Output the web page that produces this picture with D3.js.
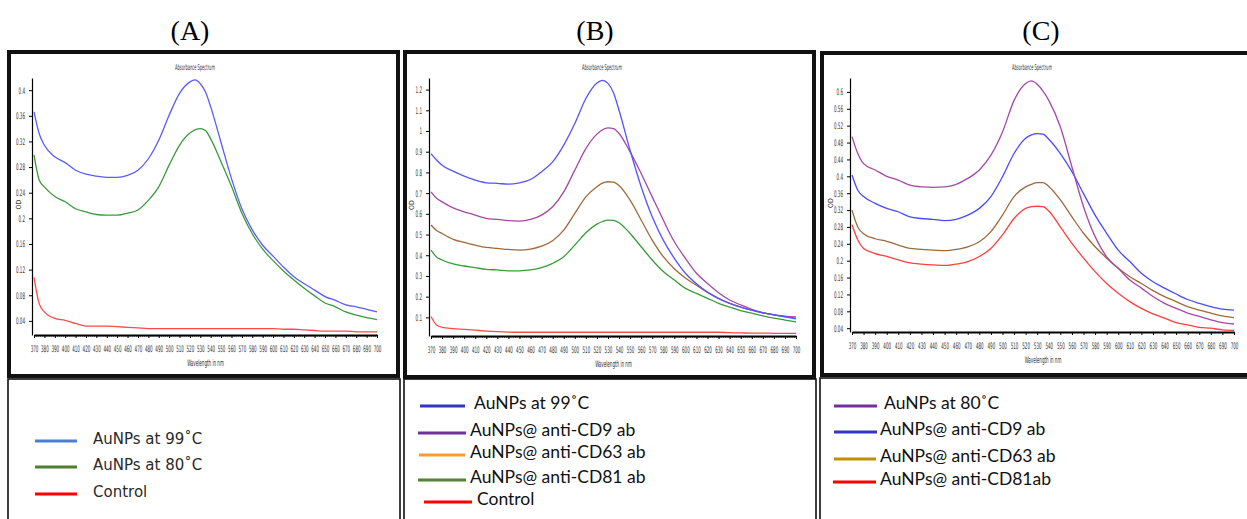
<!DOCTYPE html>
<html>
<head>
<meta charset="utf-8">
<script src="https://cdn.jsdelivr.net/npm/d3@7"></script>
<style>
  body { margin: 0; background: #fff; }
  .tick text { font-family: "DejaVu Sans Condensed", "DejaVu Sans", sans-serif; fill: #333; }
</style>
</head>
<body>
<svg id="fig" width="1247" height="519"></svg>
<script>
// wavelengths (nm) at which the spectra were read
var wavelengths = [370, 375, 380, 390, 400, 410, 420, 430, 440, 450, 460, 470, 480, 490, 500, 510,
  520, 525, 530, 535, 540, 550, 560, 570, 580, 590, 600, 610, 620, 630, 640, 650, 660, 670, 680, 690, 700];

// panel A
var aAu99 = [0.366, 0.332, 0.314, 0.296, 0.287, 0.275, 0.269, 0.266, 0.264, 0.264, 0.267, 0.275, 0.293, 0.322, 0.361, 0.395,
  0.413, 0.416, 0.410, 0.397, 0.374, 0.318, 0.262, 0.215, 0.182, 0.158, 0.141, 0.124, 0.109, 0.098, 0.088, 0.078, 0.072, 0.065, 0.062, 0.058, 0.054];
var aAu80 = [0.299, 0.260, 0.249, 0.234, 0.226, 0.215, 0.210, 0.206, 0.205, 0.205, 0.208, 0.213, 0.228, 0.249, 0.283, 0.314,
  0.333, 0.338, 0.340, 0.337, 0.324, 0.288, 0.250, 0.208, 0.176, 0.152, 0.134, 0.118, 0.104, 0.091, 0.079, 0.068, 0.062, 0.054, 0.049, 0.045, 0.042];
var aControl = [0.108, 0.067, 0.054, 0.044, 0.041, 0.036, 0.032, 0.032, 0.032, 0.031, 0.030, 0.029, 0.028, 0.028, 0.028, 0.028,
  0.028, 0.028, 0.028, 0.028, 0.028, 0.028, 0.028, 0.028, 0.028, 0.028, 0.028, 0.027, 0.027, 0.026, 0.025, 0.024, 0.024, 0.024, 0.023, 0.023, 0.023];

// panel B
var bAu99 = [0.891, 0.860, 0.835, 0.806, 0.782, 0.763, 0.750, 0.747, 0.743, 0.750, 0.766, 0.803, 0.851, 0.932, 1.036, 1.157,
  1.232, 1.245, 1.230, 1.185, 1.100, 0.907, 0.731, 0.586, 0.473, 0.385, 0.313, 0.262, 0.222, 0.192, 0.168, 0.150, 0.135, 0.122, 0.112, 0.102, 0.093];
var bCD9 = [0.706, 0.675, 0.658, 0.629, 0.610, 0.594, 0.578, 0.573, 0.567, 0.565, 0.573, 0.594, 0.634, 0.706, 0.811, 0.915,
  0.985, 1.006, 1.015, 1.011, 0.988, 0.899, 0.795, 0.682, 0.570, 0.465, 0.385, 0.313, 0.264, 0.219, 0.184, 0.160, 0.139, 0.123, 0.112, 0.106, 0.102];
var bCD63 = [0.546, 0.520, 0.505, 0.477, 0.462, 0.449, 0.438, 0.433, 0.428, 0.425, 0.430, 0.444, 0.470, 0.521, 0.602, 0.682,
  0.731, 0.748, 0.755, 0.753, 0.737, 0.666, 0.570, 0.473, 0.393, 0.335, 0.290, 0.255, 0.220, 0.190, 0.168, 0.150, 0.135, 0.122, 0.113, 0.104, 0.096];
var bCD81 = [0.425, 0.392, 0.377, 0.358, 0.348, 0.340, 0.332, 0.329, 0.325, 0.325, 0.329, 0.340, 0.361, 0.393, 0.449, 0.509,
  0.550, 0.563, 0.570, 0.568, 0.557, 0.505, 0.441, 0.377, 0.321, 0.280, 0.240, 0.216, 0.192, 0.168, 0.149, 0.133, 0.120, 0.107, 0.096, 0.087, 0.078];
var bControl = [0.104, 0.063, 0.052, 0.046, 0.042, 0.038, 0.034, 0.031, 0.029, 0.028, 0.028, 0.028, 0.028, 0.028, 0.028, 0.028,
  0.028, 0.028, 0.028, 0.028, 0.028, 0.028, 0.028, 0.028, 0.028, 0.028, 0.028, 0.028, 0.028, 0.028, 0.026, 0.025, 0.024, 0.024, 0.023, 0.023, 0.023];

// panel C
var cAu80 = [0.494, 0.454, 0.430, 0.415, 0.400, 0.391, 0.379, 0.375, 0.374, 0.375, 0.381, 0.395, 0.415, 0.450, 0.505, 0.580,
  0.620, 0.626, 0.618, 0.602, 0.580, 0.517, 0.422, 0.328, 0.257, 0.209, 0.182, 0.154, 0.135, 0.115, 0.099, 0.087, 0.076, 0.068, 0.060, 0.053, 0.050];
var cCD9 = [0.403, 0.367, 0.352, 0.336, 0.324, 0.316, 0.304, 0.300, 0.298, 0.295, 0.298, 0.308, 0.324, 0.352, 0.399, 0.454,
  0.490, 0.498, 0.501, 0.500, 0.488, 0.454, 0.411, 0.359, 0.308, 0.265, 0.225, 0.198, 0.170, 0.150, 0.135, 0.121, 0.108, 0.099, 0.091, 0.085, 0.083];
var cCD63 = [0.320, 0.280, 0.264, 0.252, 0.246, 0.237, 0.229, 0.227, 0.225, 0.224, 0.227, 0.233, 0.245, 0.269, 0.308, 0.352,
  0.375, 0.381, 0.385, 0.385, 0.376, 0.344, 0.304, 0.265, 0.233, 0.206, 0.182, 0.162, 0.146, 0.129, 0.115, 0.103, 0.091, 0.083, 0.076, 0.069, 0.065];
var cCD81 = [0.285, 0.249, 0.229, 0.217, 0.210, 0.202, 0.195, 0.192, 0.190, 0.189, 0.192, 0.198, 0.210, 0.229, 0.261, 0.300,
  0.324, 0.328, 0.329, 0.328, 0.318, 0.280, 0.241, 0.206, 0.174, 0.146, 0.123, 0.103, 0.087, 0.074, 0.064, 0.053, 0.048, 0.042, 0.040, 0.036, 0.035];

// tick values
var xTicks = d3.range(370, 701, 10);
var aYTicks = [0.04, 0.08, 0.12, 0.16, 0.2, 0.24, 0.28, 0.32, 0.36, 0.4];
var bYTicks = [0.1, 0.2, 0.3, 0.4, 0.5, 0.6, 0.7, 0.8, 0.9, 1, 1.1, 1.2];
var cYTicks = [0.04, 0.08, 0.12, 0.16, 0.2, 0.24, 0.28, 0.32, 0.36, 0.4, 0.44, 0.48, 0.52, 0.56, 0.6];

// legend texts
var aLegend = ["AuNPs at 99˚C", "AuNPs at 80˚C", "Control"];
var bLegend = ["AuNPs at 99˚C", "AuNPs@ anti-CD9 ab", "AuNPs@ anti-CD63 ab", "AuNPs@ anti-CD81 ab", "Control"];
var cLegend = ["AuNPs at 80˚C", "AuNPs@ anti-CD9 ab", "AuNPs@ anti-CD63 ab", "AuNPs@ anti-CD81ab"];

var svg = d3.select("#fig");
var squeeze = 0.5;   // the instrument software uses a very narrow font

// panel layout (pixels)
var panels = [
  { letter: "(A)", letterX: 190, box: [9, 52, 389, 324], xr: [34, 377], yr: [335, 78], yDom: [0.018, 0.419],
    yTicks: aYTicks, minor: true, titleX: 195, odX: 19,
    series: [[aAu99, "#5b5bff"], [aAu80, "#3a9a3a"], [aControl, "#ff4a4a"]] },
  { letter: "(B)", letterX: 595, box: [405, 52, 409, 325], xr: [431, 796], yr: [336, 78], yDom: [0.01, 1.256],
    yTicks: bYTicks, minor: true, titleX: 602, odX: 412,
    series: [[bControl, "#ff4a4a"], [bCD81, "#3a9a3a"], [bCD63, "#a0683a"], [bCD9, "#a648a6"], [bAu99, "#5454ff"]] },
  { letter: "(C)", letterX: 1041, box: [822, 53, 440, 322], xr: [852, 1234], yr: [332, 78], yDom: [0.031, 0.633],
    yTicks: cYTicks, minor: false, titleX: 1032, odX: 831,
    series: [[cCD81, "#ff3e3e"], [cCD63, "#9c6a3c"], [cCD9, "#4a4aff"], [cAu80, "#a648a6"]] }
];

// small narrow text, squeezed horizontally around (x, y)
function narrowText(g, x, y, size, s) {
  return g.append("text")
    .attr("transform", "translate(" + x + "," + y + ") scale(" + squeeze + ",1)")
    .attr("text-anchor", "middle")
    .style("font-family", "'DejaVu Sans Condensed', sans-serif")
    .style("font-size", size).style("fill", "#333")
    .text(s);
}

panels.forEach(function(p) {
  // panel letter
  svg.append("text")
    .attr("x", p.letterX).attr("y", 40)
    .attr("text-anchor", "middle")
    .style("font-family", "'Liberation Serif', 'DejaVu Serif', serif")
    .style("font-size", "28px")
    .text(p.letter);

  var x = d3.scaleLinear().domain([370, 700]).range(p.xr);
  var y = d3.scaleLinear().domain(p.yDom).range(p.yr);
  var g = svg.append("g");

  // chart title
  narrowText(g, p.titleX, 70, "8px", "Absorbance Spectrum");

  // minor x ticks
  if (p.minor) {
    g.append("g")
      .attr("transform", "translate(0," + p.yr[0] + ")")
      .call(d3.axisBottom(x).tickValues(d3.range(372, 700, 2)).tickSize(2).tickFormat(""))
      .call(function(a) { a.select(".domain").remove(); a.selectAll("line").attr("stroke", "#777"); });
  }

  // x axis
  var xa = g.append("g")
    .attr("transform", "translate(0," + p.yr[0] + ")")
    .call(d3.axisBottom(x).tickValues(xTicks).tickSize(3).tickSizeOuter(0).tickPadding(8).tickFormat(d3.format("d")));
  xa.select(".domain").attr("stroke-width", 2);
  xa.selectAll(".tick text").style("font-size", "9px")
    .attr("transform", "scale(" + squeeze + ",1)");

  // y axis
  var ya = g.append("g")
    .attr("transform", "translate(" + (p.xr[0] - 2) + ",0)")
    .call(d3.axisLeft(y).tickValues(p.yTicks).tickSize(3).tickSizeOuter(0).tickPadding(4)
      .tickFormat(function(d) { return String(+d.toFixed(2)); }));
  ya.select(".domain").attr("stroke-width", 1.2);
  ya.selectAll(".tick text").style("font-size", "9px")
    .attr("x", -7 / squeeze)
    .attr("transform", "scale(" + squeeze + ",1)");

  // axis titles
  narrowText(g, (p.xr[0] + p.xr[1]) / 2, p.yr[0] + 31, "9px", "Wavelength in nm");
  g.append("text")
    .attr("transform", "translate(" + (p.odX + 2) + "," + ((p.yr[0] + p.yr[1]) / 2 - 2) + ") rotate(-90)")
    .attr("text-anchor", "middle")
    .style("font-family", "'DejaVu Sans Condensed', sans-serif")
    .style("font-size", "7px").style("fill", "#333")
    .text("OD");

  // spectra
  var line = d3.line()
    .x(function(d, i) { return x(wavelengths[i]); })
    .y(function(d) { return y(d); })
    .curve(d3.curveMonotoneX);
  p.series.forEach(function(s) {
    g.append("path")
      .attr("d", line(s[0]))
      .attr("fill", "none")
      .attr("stroke", s[1])
      .attr("stroke-width", 1.3);
  });

  // panel frame
  svg.append("rect")
    .attr("x", p.box[0]).attr("y", p.box[1])
    .attr("width", p.box[2]).attr("height", p.box[3])
    .attr("fill", "none").attr("stroke", "#111").attr("stroke-width", 4);
});

// legend boxes
var legendBoxes = [[8, 379, 392, 150], [404, 379, 412, 150], [820, 378, 440, 150]];
legendBoxes.forEach(function(b) {
  svg.append("rect")
    .attr("x", b[0]).attr("y", b[1]).attr("width", b[2]).attr("height", b[3])
    .attr("fill", "none").attr("stroke", "#111").attr("stroke-width", 1.6);
});

function drawLegend(labels, colors, lineY, x0, x1, tx, font, size, fill) {
  labels.forEach(function(lab, i) {
    svg.append("line")
      .attr("x1", x0[i]).attr("x2", x1[i])
      .attr("y1", lineY[i]).attr("y2", lineY[i])
      .attr("stroke", colors[i]).attr("stroke-width", 3);
    svg.append("text")
      .attr("x", tx[i]).attr("y", lineY[i] + 3)
      .style("font-family", font).style("font-size", size).style("fill", fill)
      .text(lab);
  });
}

drawLegend(aLegend, ["#4a7dd6", "#4e7f2e", "#ff0000"], [441, 467, 494],
  [35, 35, 35], [77, 77, 77], [93, 93, 93], "'DejaVu Sans', sans-serif", "15px", "#2a2a2a");
drawLegend(bLegend, ["#3434c8", "#7030a0", "#f79a3a", "#538135", "#ff0000"], [406, 433, 455, 480, 502],
  [420, 418, 419, 418, 424], [465, 466, 465, 466, 472], [474, 470, 470, 470, 477], "Lato, 'Open Sans', sans-serif", "17.5px", "#111");
drawLegend(cLegend, ["#7030a0", "#3434c8", "#bf9000", "#ff0000"], [406, 432, 459, 482],
  [834, 834, 834, 833], [877, 877, 876, 876], [884, 880, 880, 880], "Lato, 'Open Sans', sans-serif", "17.5px", "#111");
</script>
</body>
</html>
